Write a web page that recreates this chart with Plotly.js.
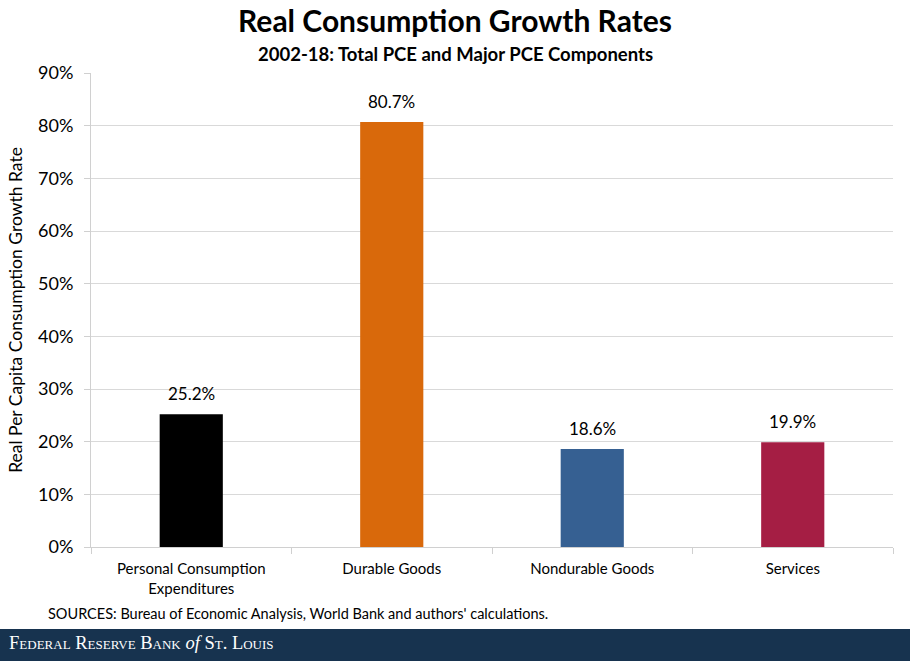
<!DOCTYPE html>
<html>
<head>
<meta charset="utf-8">
<script src="https://cdn.plot.ly/plotly-3.0.1.min.js"></script>
<style>
  body { margin: 0; padding: 0; background: #fff; }
  #chart { width: 910px; height: 661px; }
</style>
</head>
<body>
<div id="chart"></div>
<script>
var categories = ['Personal Consumption<br>Expenditures', 'Durable Goods', 'Nondurable Goods', 'Services'];
var growthRates = [25.2, 80.7, 18.6, 19.9];
var barColors = ['#000000', '#d9690b', '#366092', '#a51e44'];
var yTicks = [0, 10, 20, 30, 40, 50, 60, 70, 80, 90];

var font = 'Lato, "Open Sans", sans-serif';

var data = [{
  type: 'bar',
  x: categories,
  y: growthRates,
  marker: { color: barColors },
  hoverinfo: 'none'
}];

// value labels above the bars, a bit higher than plotly's own outside text
var valueLabels = categories.map(function (c, i) {
  return {
    text: growthRates[i].toFixed(1) + '%',
    x: c, y: growthRates[i],
    xref: 'x', yref: 'y',
    xanchor: 'center', yanchor: 'bottom',
    yshift: 8,
    showarrow: false,
    font: { family: font, size: 17, color: '#000' }
  };
});

var layout = {
  width: 910,
  height: 661,
  margin: { l: 91, r: 17, t: 73, b: 114 },
  paper_bgcolor: '#fff',
  plot_bgcolor: '#fff',
  bargap: 0.685,
  showlegend: false,
  font: { family: font, color: '#000' },
  title: {
    text: '<b>Real Consumption Growth Rates</b>',
    font: { family: font, size: 30, color: '#000' },
    x: 0.5, xanchor: 'center',
    y: 0.968, yanchor: 'middle'
  },
  xaxis: {
    type: 'category',
    tickson: 'boundaries',
    ticks: 'outside',
    ticklen: 6,
    tickcolor: '#d0d0d0',
    showline: true,
    linecolor: '#d0d0d0',
    showgrid: false,
    ticklabelstandoff: 8,
    tickfont: { family: font, size: 15, color: '#000' },
    fixedrange: true
  },
  yaxis: {
    range: [0, 90],
    tickvals: yTicks,
    ticktext: yTicks.map(function (v) { return v + '%'; }),
    ticks: 'outside',
    ticklen: 6,
    tickcolor: '#d0d0d0',
    showline: true,
    linecolor: '#d0d0d0',
    gridcolor: '#d9d9d9',
    zeroline: false,
    ticklabelstandoff: 7,
    tickfont: { family: font, size: 18, color: '#000' },
    title: {
      text: 'Real Per Capita Consumption Growth Rate',
      font: { family: font, size: 17.5, color: '#000' },
      standoff: 10
    },
    fixedrange: true
  },
  annotations: valueLabels.concat([
    {
      text: '<b>2002-18: Total PCE and Major PCE Components</b>',
      xref: 'paper', yref: 'paper',
      x: (455 - 91) / 802, y: 1.0 + 19 / 474,
      xanchor: 'center', yanchor: 'middle',
      showarrow: false,
      font: { family: font, size: 18.5, color: '#000' }
    },
    {
      text: "SOURCES: Bureau of Economic Analysis, World Bank and authors' calculations.",
      xref: 'paper', yref: 'paper',
      x: (46 - 91) / 802, y: (547 - 613) / 474,
      xanchor: 'left', yanchor: 'middle',
      showarrow: false,
      font: { family: font, size: 14.5, color: '#000' }
    },
    {
      text: 'F<span style="font-size:13px">EDERAL</span> R<span style="font-size:13px">ESERVE</span> B<span style="font-size:13px">ANK</span> <i>of</i> S<span style="font-size:13px">T</span>. L<span style="font-size:13px">OUIS</span>',
      xref: 'paper', yref: 'paper',
      x: (7 - 91) / 802, y: (547 - 643) / 474,
      xanchor: 'left', yanchor: 'middle',
      showarrow: false,
      font: { family: '"Liberation Serif", "DejaVu Serif", serif', size: 18.5, color: '#ffffff' }
    }
  ]),
  shapes: [{
    type: 'rect',
    xref: 'paper', yref: 'paper',
    x0: -0.2, x1: 1.1,
    y0: (547 - 629) / 474, y1: (547 - 670) / 474,
    fillcolor: '#17334f',
    line: { width: 0 },
    layer: 'below'
  }]
};

Plotly.newPlot('chart', data, layout, { displayModeBar: false, staticPlot: true });
</script>
</body>
</html>
